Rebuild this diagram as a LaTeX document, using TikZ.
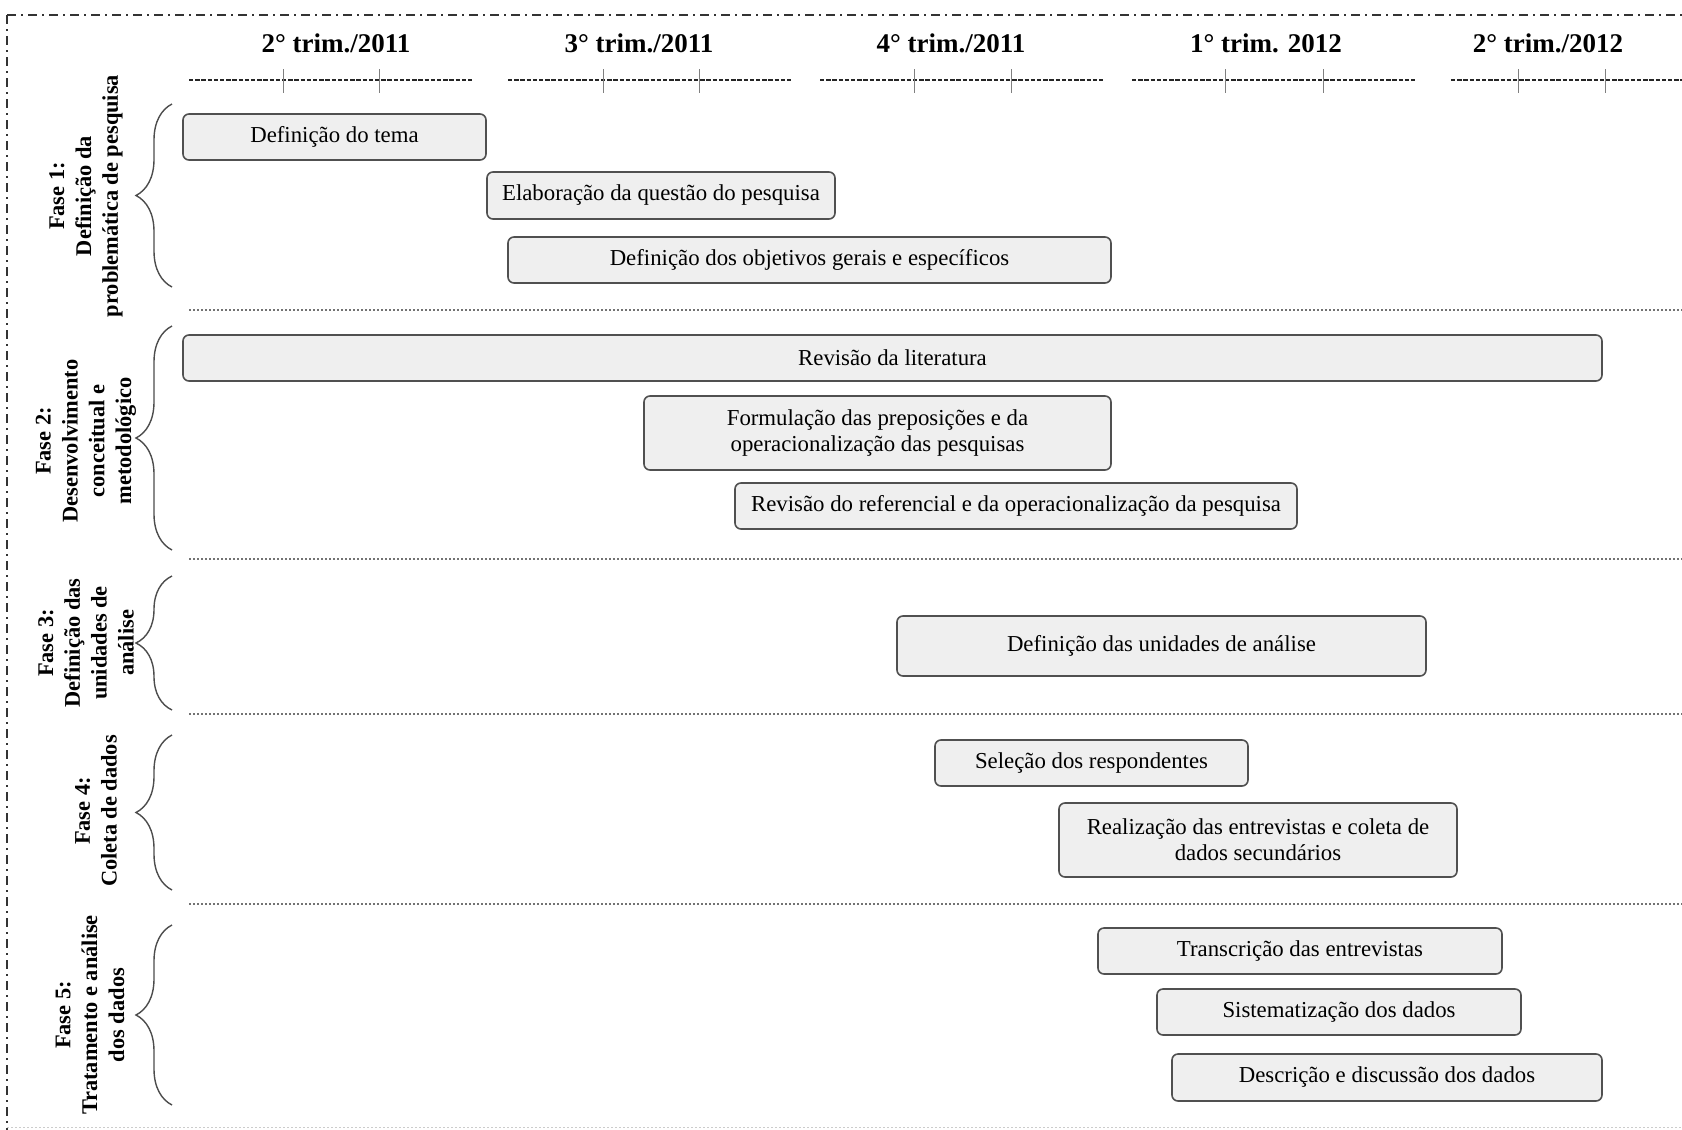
\documentclass[tikz,border=0pt]{standalone}
\usepackage{fontspec}
\setmainfont{Liberation Serif}
\usetikzlibrary{decorations.pathreplacing}
\definecolor{boxfill}{HTML}{EFEFEF}
\definecolor{boxline}{HTML}{505050}
\begin{document}
\begin{tikzpicture}[x=0.5pt,y=-0.5pt,
  taskbox/.style={draw=boxline, fill=boxfill, rounded corners=3pt, line width=0.8pt, inner sep=0pt, align=center, font=\fontsize{11.4}{13}\selectfont},
  phase/.style={rotate=90, align=center, font=\fontsize{11.2}{13.4}\selectfont\bfseries},
  header/.style={font=\fontsize{13.5}{16}\selectfont\bfseries},
  sepline/.style={draw=black!55, line width=0.6pt, dash pattern=on 1pt off 1pt},
  ruler/.style={draw=black!85, line width=1.1pt, dash pattern=on 2.2pt off 0.9pt},
  tickline/.style={draw=black!50, line width=0.45pt},
  bracestyle/.style={draw=black!70, line width=0.7pt, decorate, decoration={brace, amplitude=18pt}},
  framestyle/.style={draw=black!80, line width=0.9pt, dash pattern=on 4.5pt off 2.5pt on 1pt off 2.5pt}]

\useasboundingbox (0,0) rectangle (1682,1130);

% frame
\draw[framestyle] (7,15) -- (1682,15);
\draw[framestyle] (7,15) -- (7,1130);
\draw[draw=black!20, line width=0.5pt, dash pattern=on 1pt off 1pt] (7,1127) -- (1682,1127);

% headers
\node[header] (h1) at (336,43) {2° trim./2011};
\node[header] (h2) at (639,43) {3° trim./2011};
\node[header] (h3) at (951,43) {4° trim./2011};
\node[header] (h4) at (1266,43) {1° trim. 2012};
\node[header] (h5) at (1548,43) {2° trim./2012};

% rulers
\draw[ruler] (189,80) -- (472,80);
\draw[ruler] (508,80) -- (792,80);
\draw[ruler] (820,80) -- (1103,80);
\draw[ruler] (1132,80) -- (1416,80);
\draw[ruler] (1451,80) -- (1682,80);
\foreach \tx in {283,379,603,699,914,1011,1225,1323,1518,1605}
  \draw[tickline] (\tx,69) -- (\tx,93);

% phase separators
\foreach \sy in {310,559,714,904}
  \draw[sepline] (189,\sy) -- (1682,\sy);

% braces
\draw[bracestyle] (172,287) -- (172,104);
\draw[bracestyle] (172,550) -- (172,326);
\draw[bracestyle] (172,710) -- (172,576);
\draw[bracestyle] (172,890) -- (172,735);
\draw[bracestyle] (172,1105) -- (172,925);

% phase labels
\node[phase] (f1) at (86,196) {Fase 1:\\Definição da\\problemática de pesquisa};
\node[phase] (f2) at (86,441) {Fase 2:\\Desenvolvimento\\conceitual e\\metodológico};
\node[phase] (f3) at (86,643) {Fase 3:\\Definição das\\unidades de\\análise};
\node[phase] (f4) at (96,811) {Fase 4:\\Coleta de dados};
\node[phase] (f5) at (90,1015) {Fase 5:\\Tratamento e análise\\dos dados};

% tasks
\node[taskbox, minimum width=151.5pt, minimum height=23pt] (t1) at (334.5,137) {Definição do tema};
\node[taskbox, minimum width=174pt, minimum height=23.5pt] (t2) at (661,195.5) {Elaboração da questão do pesquisa};
\node[taskbox, minimum width=301.5pt, minimum height=23pt] (t3) at (809.5,260) {Definição dos objetivos gerais e específicos};
\node[taskbox, minimum width=709.5pt, minimum height=23pt] (t4) at (892.5,358) {Revisão da literatura};
\node[taskbox, minimum width=233.5pt, minimum height=37pt] (t5) at (877.5,433) {Formulação das preposições e da\\operacionalização das pesquisas};
\node[taskbox, minimum width=281pt, minimum height=23pt] (t6) at (1016,506) {Revisão do referencial e da operacionalização da pesquisa};
\node[taskbox, minimum width=264.5pt, minimum height=30pt] (t7) at (1161.5,646) {Definição das unidades de análise};
\node[taskbox, minimum width=156.5pt, minimum height=23pt] (t8) at (1091.5,763) {Seleção dos respondentes};
\node[taskbox, minimum width=199pt, minimum height=37pt] (t9) at (1258,840) {Realização das entrevistas e coleta de\\dados secundários};
\node[taskbox, minimum width=202pt, minimum height=23pt] (t10) at (1300,951) {Transcrição das entrevistas};
\node[taskbox, minimum width=182pt, minimum height=23pt] (t11) at (1339,1012) {Sistematização dos dados};
\node[taskbox, minimum width=215pt, minimum height=23.5pt] (t12) at (1387,1077.5) {Descrição e discussão dos dados};
\end{tikzpicture}
\end{document}
